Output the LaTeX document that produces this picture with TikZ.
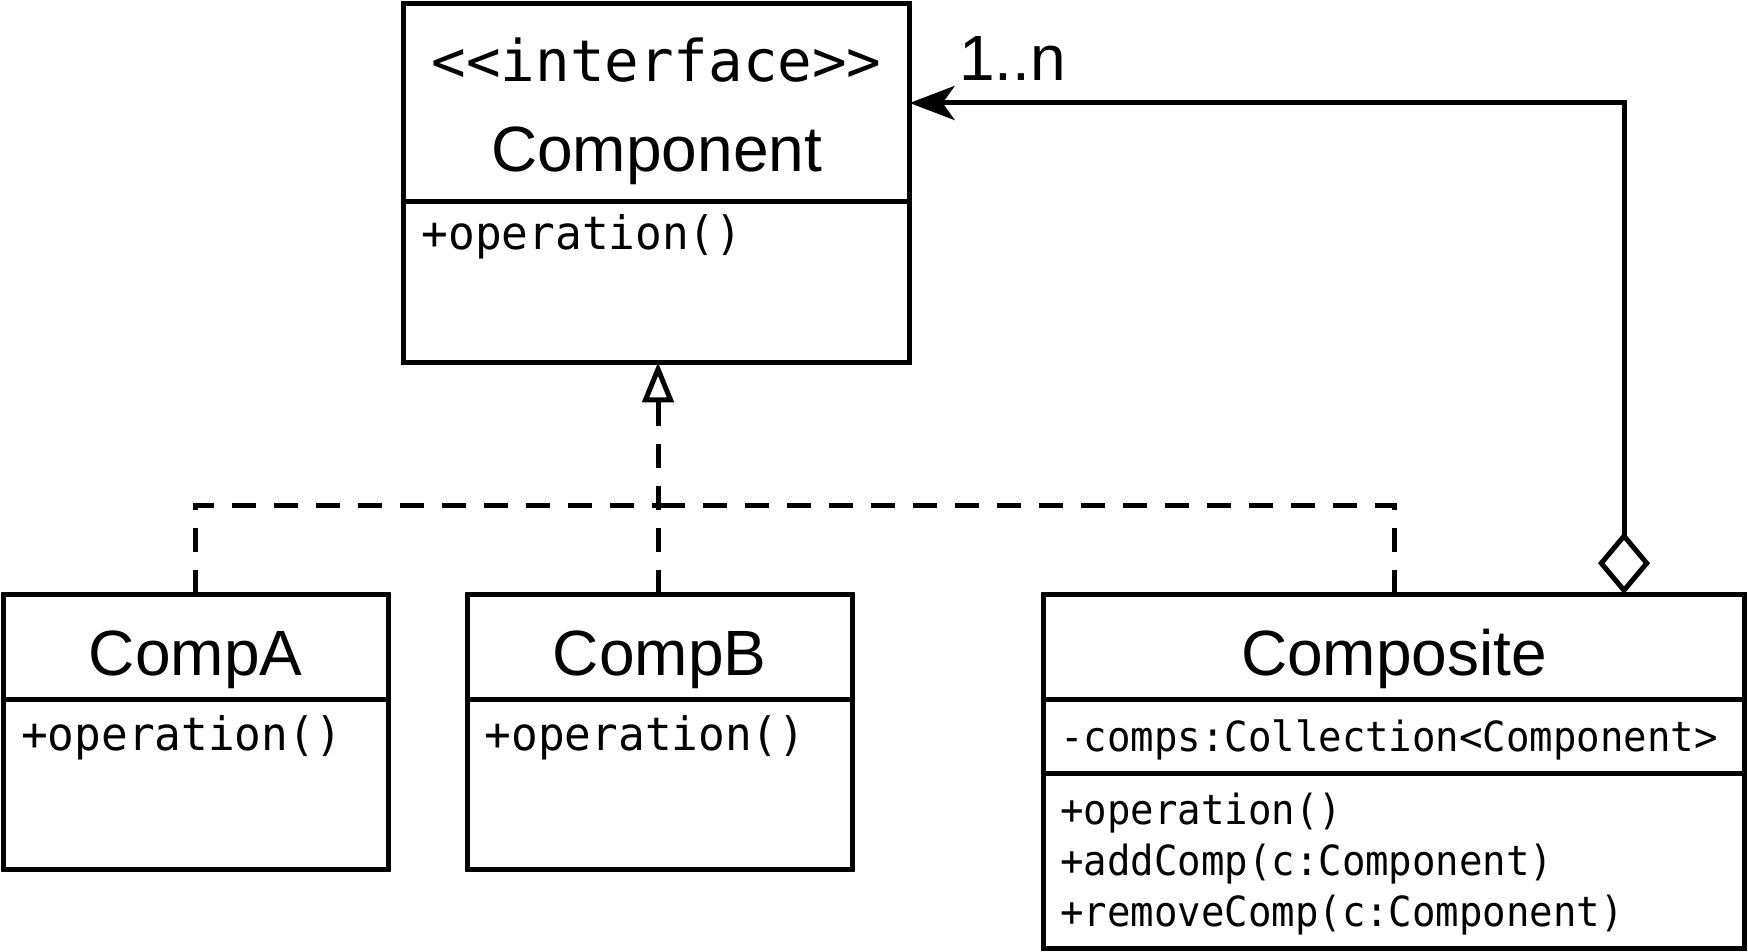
\documentclass[tikz,border=0pt]{standalone}
\usepackage{fontspec}
\setmainfont{Liberation Sans}
\newfontfamily\monobig{DejaVu Sans Mono}
\newfontfamily\mono[FakeStretch=0.965]{DejaVu Sans Mono}
\newfontfamily\monosmall[FakeStretch=0.94]{DejaVu Sans Mono}
\usetikzlibrary{arrows.meta}

\begin{document}
\begin{tikzpicture}[x=1pt,y=-1pt,
  box/.style={draw, line width=5pt, inner sep=0pt, outer sep=0pt, anchor=north west},
  sep/.style={line width=5pt},
  title/.style={inner sep=0pt, anchor=base, font=\fontsize{64}{77}\selectfont},
  member/.style={inner sep=0pt, anchor=base west, font=\mono\fontsize{46}{55}\selectfont},
  cmember/.style={inner sep=0pt, anchor=base west, font=\monosmall\fontsize{41.5}{50}\selectfont},
  realize/.style={line width=5pt, dash pattern=on 24pt off 18pt},
  assoc/.style={line width=5pt, line join=miter}
]
\useasboundingbox (0,0) rectangle (1748,952);

% Component interface
\node[box, minimum width=506pt, minimum height=359pt] (comp) at (403.6,3.3) {};
\draw[sep] (403.6,202) -- (909.6,202);
\node[inner sep=0pt, anchor=base, font=\monobig\fontsize{57.5}{69}\selectfont] (stereo) at (656.6,82) {{<}{<}interface{>}{>}};
\node[title] (compname) at (656.6,172) {Component};
\node[member] (compop) at (421.5,249) {+operation()};

% CompA
\node[box, minimum width=384.7pt, minimum height=275.3pt] (compA) at (3.3,594.2) {};
\draw[sep] (3.3,699) -- (388,699);
\node[title] (compAname) at (195.65,675) {CompA};
\node[member] (compAop) at (21,750.5) {+operation()};

% CompB
\node[box, minimum width=384.7pt, minimum height=275.3pt] (compB) at (467.3,594.2) {};
\draw[sep] (467.3,699) -- (852,699);
\node[title] (compBname) at (659.6,675) {CompB};
\node[member] (compBop) at (484.5,750.5) {+operation()};

% Composite
\node[box, minimum width=701.1pt, minimum height=354.5pt] (compo) at (1043.5,594.2) {};
\draw[sep] (1043.5,699) -- (1744.6,699);
\draw[sep] (1043.5,773) -- (1744.6,773);
\node[title] (componame) at (1394,675) {Composite};
\node[cmember] (compofield) at (1060,751) {-comps:Collection{<}Component{>}};
\node[cmember] (compoop1) at (1060,824) {+operation()};
\node[cmember] (compoop2) at (1060,875) {+addComp(c:Component)};
\node[cmember] (compoop3) at (1060,926) {+removeComp(c:Component)};

% Realization connectors
\coordinate (junc) at (658,505);
\draw[realize] (compA.north) |- (junc);
\draw[realize] (compo.north) |- (junc);
\draw[realize, -{Triangle[open, length=40pt, width=31pt]}] (junc |- compB.north) -- (junc |- comp.south);

% Aggregation connector
\coordinate (bend) at (1624,103);
\draw[assoc, {Diamond[open, length=62pt, width=52pt]}-{Stealth[length=45pt, width=34pt, inset=12pt]}]
  (compo.north -| bend) -- (bend) -- (bend -| comp.east);
\node[inner sep=0pt, anchor=base west, font=\fontsize{64}{77}\selectfont] (mult) at (959,80.7) {1..n};
\end{tikzpicture}
\end{document}
